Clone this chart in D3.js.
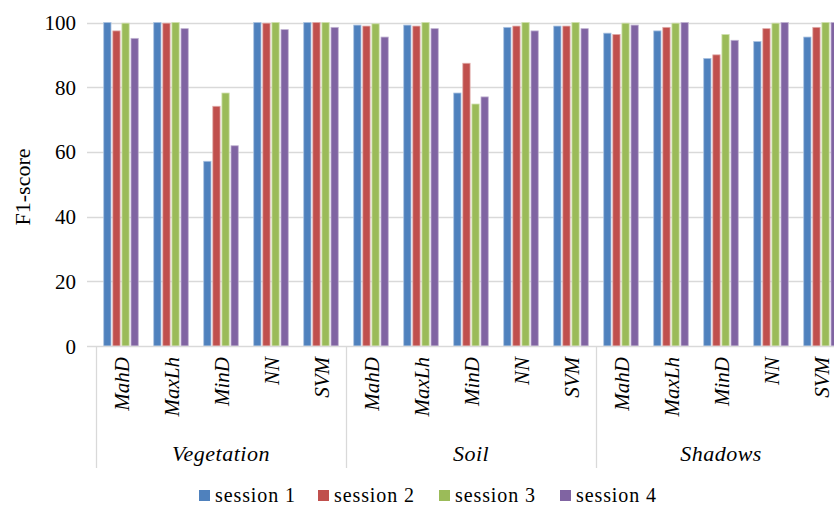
<!DOCTYPE html>
<html><head><meta charset="utf-8">
<script src="https://cdn.jsdelivr.net/npm/d3@7"></script>
<style>
html,body{margin:0;padding:0;background:#fff;overflow:hidden;}
svg{display:block;}
</style></head>
<body>
<svg id="chart" width="834" height="507"></svg>
<script>
const groups = ["Vegetation", "Soil", "Shadows"];
const methods = ["MahD", "MaxLh", "MinD", "NN", "SVM"];
const sessions = ["session 1", "session 2", "session 3", "session 4"];
const colors = ["#4F81BD", "#C0504D", "#9BBB59", "#8064A2"];
const strokes = ["#a9c1e0", "#e0a9a7", "#cfe0ad", "#c0b2d2"];
const yTicks = [0, 20, 40, 60, 80, 100];
// values per session, ordered Vegetation(MahD..SVM), Soil(...), Shadows(...)
const session1 = [100, 100, 57.1, 100, 100,  99.2, 99.2, 78.2, 98.5, 98.9,  96.7, 97.4, 88.9, 94.1, 95.5];
const session2 = [97.4, 99.8, 74.1, 99.8, 100,  98.9, 98.9, 87.4, 98.9, 98.9,  96.3, 98.5, 90.0, 98.1, 98.5];
const session3 = [99.8, 100, 78.2, 100, 100,  99.6, 100, 74.8, 100, 100,  99.8, 99.8, 96.3, 99.8, 100];
const session4 = [95.1, 98.1, 61.9, 97.8, 98.5,  95.5, 98.1, 77.0, 97.4, 98.1,  99.2, 100, 94.5, 100, 100];
const seriesValues = [session1, session2, session3, session4];

const FONT = '"Times New Roman", "Liberation Serif", Tinos, "DejaVu Serif", serif';
const svg = d3.select("#chart").attr("font-family", FONT);
const plotLeft = 96, catW = 50, yTop = 22.5, yBottom = 346;
const cats = [];
groups.forEach(g => methods.forEach(m => cats.push(g + "|" + m)));

const x0 = d3.scaleBand().domain(cats).range([plotLeft, plotLeft + catW * cats.length]).padding(0);
const x1 = d3.scaleBand().domain(d3.range(4)).range([0, x0.bandwidth()]).paddingInner(0.2).paddingOuter(0.85);
const y = d3.scaleLinear().domain([0, 100]).range([yBottom, yTop]);

// gridlines
svg.append("g").selectAll("line").data(yTicks.filter(t => t > 0)).join("line")
  .attr("x1", 87).attr("x2", 834)
  .attr("y1", d => Math.round(y(d)) + 0.5).attr("y2", d => Math.round(y(d)) + 0.5)
  .attr("stroke", "#d9d9d9").attr("stroke-width", 1.3);

// y labels
svg.append("g").selectAll("text").data(yTicks).join("text")
  .attr("x", 76).attr("y", d => y(d) + 7.5)
  .attr("text-anchor", "end").attr("font-family", FONT).style("font-size", "21px")
  .text(d => d);

// bars
const data = [];
cats.forEach((c, i) => seriesValues.forEach((vals, s) => data.push({c, s, v: vals[i]})));
svg.append("g").selectAll("rect").data(data).join("rect")
  .attr("x", d => x0(d.c) + x1(d.s))
  .attr("width", x1.bandwidth())
  .attr("y", d => y(d.v))
  .attr("height", d => y(0) - y(d.v))
  .attr("fill", d => colors[d.s])
  .attr("stroke", d => strokes[d.s]).attr("stroke-width", 0.8);

// x axis line
svg.append("line").attr("x1", 87).attr("x2", 834)
  .attr("y1", yBottom + 0.5).attr("y2", yBottom + 0.5)
  .attr("stroke", "#d9d9d9").attr("stroke-width", 1.3);

// group separators
const seps = [0, 5, 10, 15].map(i => plotLeft + catW * i);
svg.append("g").selectAll("line").data(seps).join("line")
  .attr("x1", d => d + 0.5).attr("x2", d => d + 0.5)
  .attr("y1", yBottom).attr("y2", 468)
  .attr("stroke", "#d9d9d9").attr("stroke-width", 1.3);

// method labels
svg.append("g").selectAll("text").data(cats).join("text")
  .attr("transform", d => `translate(${x0(d) + x0.bandwidth() / 2 + 7.5},357) rotate(-90)`)
  .attr("text-anchor", "end").attr("font-family", FONT)
  .style("font-size", "21px").style("font-style", "italic")
  .text(d => d.split("|")[1]);

// group labels
svg.append("g").selectAll("text").data(groups).join("text")
  .attr("x", (d, i) => x0(d + "|MinD") + x0.bandwidth() / 2)
  .attr("y", 461)
  .attr("text-anchor", "middle").attr("font-family", FONT)
  .style("font-size", "22px").style("font-style", "italic").style("letter-spacing", "0.5px")
  .text(d => d);

// y title
svg.append("text").attr("transform", "translate(30,187) rotate(-90)")
  .attr("text-anchor", "middle").attr("font-family", FONT)
  .style("font-size", "22px").text("F1-score");

// legend
const legX = [199, 318, 439, 560];
const leg = svg.append("g").selectAll("g").data(sessions).join("g")
  .attr("transform", (d, i) => `translate(${legX[i]},0)`);
leg.append("rect").attr("x", 0).attr("y", 490).attr("width", 11).attr("height", 11)
  .attr("fill", (d, i) => colors[i]);
leg.append("text").attr("x", 16).attr("y", 502).attr("font-family", FONT)
  .style("font-size", "20px").style("letter-spacing", "0.9px").text(d => d);
</script>
</body></html>
